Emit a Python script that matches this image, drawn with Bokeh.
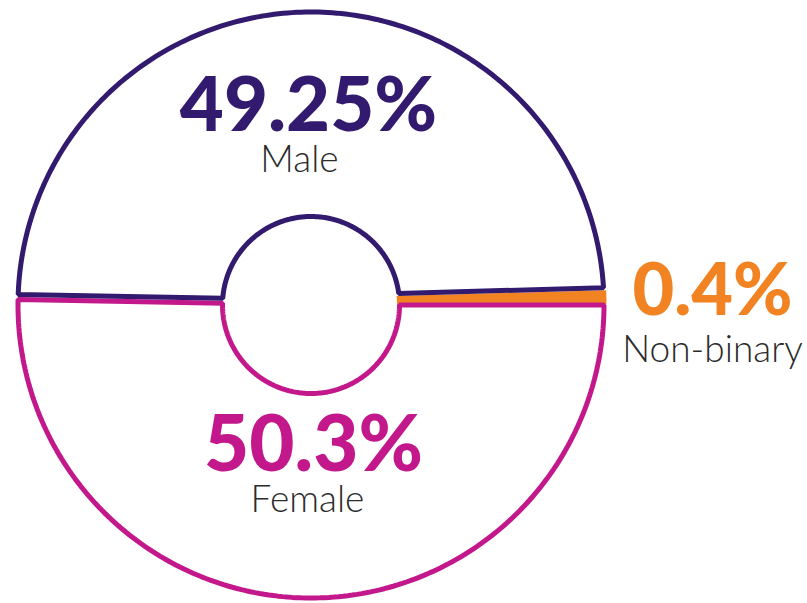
import numpy as np
from bokeh.plotting import figure
from bokeh.models import Range1d
from bokeh.core.properties import value
from bokeh.embed import file_html
from bokeh.resources import INLINE

# ---- data ----
categories = ["Male", "Female", "Non-binary"]
shares = [49.25, 50.3, 0.4]
pct_labels = ["49.25%", "50.3%", "0.4%"]
colors = ["#321a6e", "#c3188b", "#f28322"]

# ---- layout / style ----
W, H = 807, 603
CX, CY = 310.5, H - 304.5   # centre (data units = pixels, y up)
R_OUT, R_IN = 293, 88.5
LW = 5

p = figure(width=W, height=H, output_backend="svg", toolbar_location=None,
           x_range=Range1d(0, W), y_range=Range1d(0, H), min_border=0,
           background_fill_color="white", border_fill_color="white")
p.axis.visible = False
p.grid.visible = False
p.outline_line_color = None

# angles: clockwise from 3 o'clock -> Female, Male, Non-binary
order = [1, 0, 2]
span = np.radians(360.0 * np.array(shares) / 100.0)
ang = {}
a = 2 * np.pi
for i in order:
    ang[i] = (a - span[i], a)   # (start, end) counter-clockwise
    a -= span[i]


def sector(a0, a1, d0, d1, r_in=R_IN, r_out=R_OUT, n=200):
    """Annular sector with straight edges offset by constant distances d0/d1."""
    o = np.linspace(a0 + np.arcsin(d0 / r_out), a1 - np.arcsin(d1 / r_out), n)
    i = np.linspace(a1 - np.arcsin(d1 / r_in), a0 + np.arcsin(d0 / r_in), n)
    xs = np.concatenate([CX + r_out * np.cos(o), CX + r_in * np.cos(i)])
    ys = np.concatenate([CY + r_out * np.sin(o), CY + r_in * np.sin(i)])
    return list(xs), list(ys)


# Non-binary: filled, widened toward the male outline
xs, ys = sector(ang[2][0], ang[2][1], 0.0, -6.5, R_IN - LW / 2, R_OUT + LW / 2)
p.patch(xs, ys, fill_color=colors[2], line_color=None)

# Female outline
xs, ys = sector(ang[1][0], ang[1][1], 0.0, 0.0)
p.patch(xs, ys, fill_color=None, line_color=colors[1], line_width=LW)

# Male outline, offset so it sits beside its neighbours
xs, ys = sector(ang[0][0], ang[0][1], 9.0, 5.0)
p.patch(xs, ys, fill_color=None, line_color=colors[0], line_width=LW)

# labels: (x, visual baseline in screen px, font size)
big_pos = [(308, 131, 76), (313, 472, 78), (712, 315, 72)]
small_pos = [(299, 172, 37), (307, 512, 37), (712, 362, 37)]
for i in range(3):
    x, y, fs = big_pos[i]
    p.text(x=[x], y=[H - y + 0.40 * fs], text=[pct_labels[i]], text_align="center",
           text_baseline="alphabetic", text_color=colors[i],
           text_font=value("Lato Black"), text_font_size=f"{fs}px")
    x, y, fs = small_pos[i]
    p.text(x=[x], y=[H - y + 0.40 * fs], text=[categories[i]], text_align="center",
           text_baseline="alphabetic", text_color="#2b2b2b",
           text_font=value("Lato Light"), text_font_size=f"{fs}px")

open("out.html", "w").write(file_html(p, INLINE))
